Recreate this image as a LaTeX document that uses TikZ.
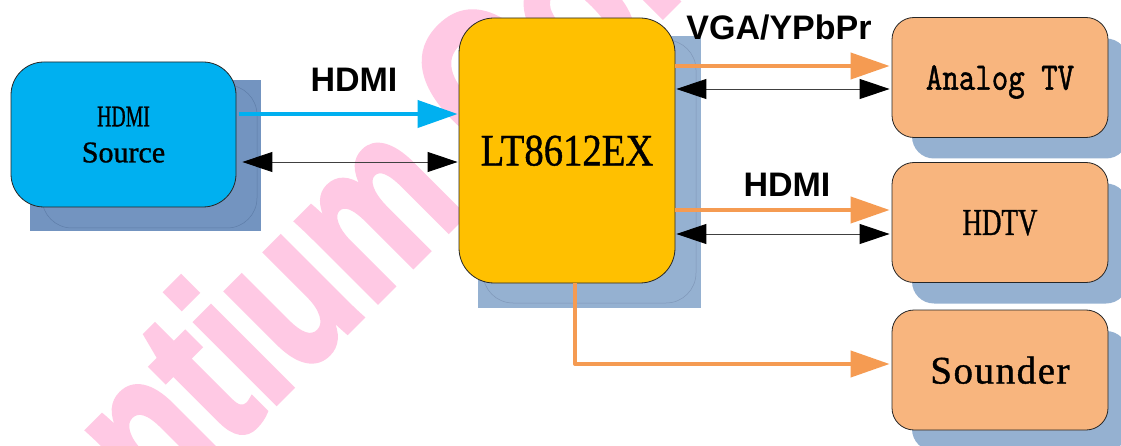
\documentclass[tikz,border=0pt]{standalone}
\usepackage{graphicx}
\usepackage{fontspec}
\setmainfont{Liberation Serif}
\newfontfamily\labelfont{Liberation Sans}
\newfontfamily\boxfont[FakeBold=1]{Liberation Serif}
\newfontfamily\boxmono[FakeBold=1.5]{Latin Modern Mono}
\newfontfamily\wmfont[FakeBold=2.5]{Liberation Sans Bold}
\usetikzlibrary{arrows.meta,shadows,calc}
\definecolor{cyanbox}{HTML}{00B0F0}
\definecolor{goldbox}{HTML}{FFC000}
\definecolor{peach}{HTML}{F8B57E}
\definecolor{orangeline}{HTML}{F59B52}
\definecolor{shadowA}{HTML}{7394C0}
\definecolor{shadowB}{HTML}{95B1D1}
\definecolor{innerA}{HTML}{5E7DA8}
\definecolor{innerB}{HTML}{7F97B8}
\definecolor{wm}{HTML}{FFC9E4}
\begin{document}
\begin{tikzpicture}[x=1pt,y=-1pt,
  box/.style={draw=black!85, line width=0.8pt, inner sep=0pt, align=center, text depth=0pt},
  tvbox/.style={box, fill=peach, minimum width=216pt, minimum height=120pt, rounded corners=22pt,
    drop shadow={shadow xshift=20pt, shadow yshift=-21pt, opacity=1, fill=shadowB, draw=none}},
  lbl/.style={inner sep=0pt, font=\labelfont\bfseries\fontsize{34}{34}\selectfont},
  sigblue/.style={draw=cyanbox, line width=4pt, -{Triangle[length=40pt,width=27pt]}},
  sigorange/.style={draw=orangeline, line width=4pt, line join=round, -{Triangle[length=39pt,width=26pt]}},
  busarrow/.style={draw=black!75, line width=0.9pt,
    {Triangle[length=30pt,width=20pt,color=black]}-{Triangle[length=30pt,width=20pt,color=black]}},
  wmark/.style={inner sep=0pt, text=wm, font=\wmfont\fontsize{215}{215}\selectfont},
  faint/.style={line width=0.5pt}
]
\useasboundingbox[fill=white] (0,0) rectangle (1121,446);

% watermark
\node[wmark, rotate=45, anchor=base west] (wmk) at (21,658) {\scalebox{0.75}[1]{Lontium Confidential}};

% shadows of the two left boxes
\fill[shadowA] (30,80) rectangle (261,231);
\draw[faint, innerA, rounded corners=30pt] (42,85) rectangle (257,228);
\fill[shadowB] (478,36) rectangle (701,308);
\draw[faint, innerB, rounded corners=30pt] (483,40) rectangle (696,303);

% boxes
\node[box, fill=cyanbox, minimum width=225pt, minimum height=145pt, rounded corners=33pt,
  font=\boxfont\fontsize{30}{36}\selectfont] (src) at (123.5,134.5)
  {\scalebox{0.66}[1]{HDMI}\\Source};
\node[box, fill=goldbox, minimum width=216pt, minimum height=265pt, rounded corners=35pt,
  font=\boxfont\fontsize{45}{45}\selectfont] (lt) at (567,150.5) {\scalebox{0.86}[1]{LT8612EX}};
\node[tvbox, font=\boxmono\fontsize{39}{39}\selectfont] (atv) at (1000,77.5) {\scalebox{0.82}[1]{Analog TV}};
\node[tvbox, font=\boxfont\fontsize{38}{38}\selectfont] (hdtv) at (1000,222.5) {\scalebox{0.71}[1]{HDTV}};
\node[tvbox, font=\boxfont\fontsize{39}{39}\selectfont] (snd) at (1000,370) {\addfontfeature{LetterSpace=4}Sounder};

% connectors
\draw[sigblue, shorten <=3pt, shorten >=1pt] (src.east |- 0,114) -- (lt.west |- 0,114);
\draw[busarrow, shorten <=6pt, shorten >=1pt] (src.east |- 0,162) -- (lt.west |- 0,162);

\draw[sigorange, shorten >=2pt] (lt.east |- 0,66) -- (atv.west |- 0,66);
\draw[busarrow, shorten <=1pt, shorten >=2pt] (lt.east |- 0,89) -- (atv.west |- 0,89);

\draw[sigorange, shorten >=2pt] (lt.east |- 0,210) -- (hdtv.west |- 0,210);
\draw[busarrow, shorten <=1pt, shorten >=2pt] (lt.east |- 0,234) -- (hdtv.west |- 0,234);

\draw[sigorange, shorten >=2pt] (lt.south -| 575,0) |- (snd.west |- 0,364);

% labels
\node[lbl] (lblsrc) at (354,80) {HDMI};
\node[lbl] (lblvga) at (779,28) {VGA/YPbPr};
\node[lbl] (lblhd) at (787,185) {HDMI};
\end{tikzpicture}
\end{document}
